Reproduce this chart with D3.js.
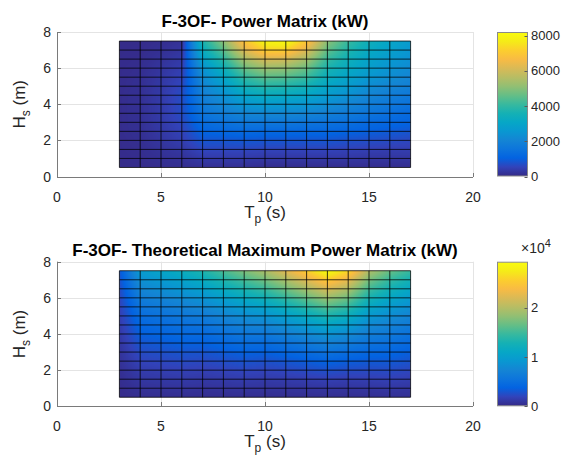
<!DOCTYPE html>
<html>
<head>
<meta charset="utf-8">
<script src="https://cdn.jsdelivr.net/npm/d3@7"></script>
<style>
  html, body { margin: 0; padding: 0; background: #fff; }
  svg { display: block; font-family: "Liberation Sans", Arial, Helvetica, sans-serif; }
</style>
</head>
<body>
<svg id="chart" width="561" height="463"></svg>
<script>
// Sea-state grid: peak period Tp (s) and significant wave height Hs (m)
const tpValues = [3, 4, 5, 6, 7, 8, 9, 10, 11, 12, 13, 14, 15, 16, 17];
const hsValues = [0.5, 1, 1.5, 2, 2.5, 3, 3.5, 4, 4.5, 5, 5.5, 6, 6.5, 7, 7.5];

// Absorbed power (kW), one array per Tp, Hs ascending
const powerByTp = [
  [25, 40, 50, 55, 65, 65, 65, 65, 65, 55, 55, 50, 40, 35, 25],
  [40, 65, 80, 100, 115, 125, 130, 130, 125, 115, 100, 80, 65, 50, 40],
  [65, 125, 180, 245, 285, 330, 345, 345, 330, 305, 270, 230, 180, 125, 80],
  [80, 165, 285, 410, 490, 575, 655, 655, 655, 575, 490, 410, 330, 245, 165],
  [125, 330, 575, 820, 1065, 1310, 1560, 1720, 1885, 2050, 2215, 2460, 2870, 3280, 3690],
  [125, 330, 575, 820, 1150, 1475, 1805, 2130, 2380, 2705, 3035, 3445, 3935, 4510, 5085],
  [125, 330, 575, 860, 1230, 1640, 2050, 2540, 3035, 3525, 4020, 4675, 5410, 6230, 6970],
  [80, 285, 535, 820, 1190, 1640, 2130, 2705, 3280, 3855, 4510, 5250, 6150, 7215, 8035],
  [80, 285, 535, 820, 1190, 1640, 2130, 2625, 3200, 3770, 4430, 5165, 6070, 7215, 8200],
  [80, 285, 535, 820, 1150, 1560, 2050, 2540, 3035, 3525, 4100, 4675, 5410, 6230, 7050],
  [80, 285, 535, 820, 1150, 1475, 1885, 2295, 2705, 3035, 3360, 3690, 4100, 4590, 5085],
  [80, 285, 490, 740, 1065, 1395, 1720, 2050, 2380, 2705, 2950, 3200, 3445, 3770, 4100],
  [80, 245, 450, 695, 985, 1230, 1560, 1805, 2050, 2295, 2540, 2790, 2950, 3200, 3445],
  [80, 245, 410, 655, 900, 1150, 1395, 1640, 1805, 2050, 2295, 2460, 2625, 2870, 3035],
  [80, 245, 410, 575, 820, 1065, 1230, 1475, 1640, 1885, 2050, 2215, 2380, 2540, 2705]
];

// Theoretical maximum power (kW), one array per Tp, Hs ascending
const theoreticalByTp = [
  [90, 180, 290, 410, 560, 700, 880, 1060, 1230, 1440, 1670, 1930, 2230, 2550, 2930],
  [290, 580, 970, 1350, 1840, 2320, 2900, 3480, 4060, 4740, 5510, 6380, 7350, 8410, 9670],
  [330, 650, 1080, 1520, 2060, 2600, 3250, 3900, 4550, 5310, 6180, 7150, 8240, 9430, 10840],
  [360, 720, 1200, 1680, 2280, 2880, 3600, 4320, 5040, 5880, 6850, 7930, 9130, 10450, 12010],
  [300, 640, 1080, 1580, 2180, 2850, 3620, 4450, 5320, 6340, 7480, 8760, 10180, 11730, 13480],
  [320, 710, 1220, 1800, 2490, 3270, 4160, 5120, 6130, 7300, 8620, 10090, 11730, 13510, 15530],
  [350, 790, 1370, 2020, 2810, 3690, 4710, 5800, 6940, 8260, 9760, 11430, 13270, 15290, 17580],
  [330, 720, 1240, 1900, 2650, 3600, 4650, 5900, 7260, 8830, 10600, 12560, 14720, 17080, 19630],
  [340, 760, 1330, 2100, 2980, 4080, 5310, 6770, 8350, 10150, 12180, 14440, 16920, 19630, 22560],
  [350, 810, 1460, 2350, 3370, 4650, 6060, 7730, 9540, 11600, 13920, 16500, 19340, 22430, 25780],
  [370, 900, 1630, 2650, 3810, 5270, 6890, 8790, 10840, 13190, 15820, 18750, 21980, 25490, 29300],
  [350, 820, 1470, 2380, 3430, 4750, 6200, 7910, 9760, 11870, 14240, 16880, 19780, 22940, 26370],
  [400, 900, 1550, 2290, 3190, 4180, 5340, 6570, 7870, 9360, 11060, 12950, 15040, 17330, 19920],
  [500, 1000, 1670, 2340, 3170, 4010, 5010, 6010, 7010, 8180, 9520, 11020, 12690, 14530, 16700],
  [440, 880, 1470, 2050, 2780, 3520, 4400, 5270, 6150, 7180, 8350, 9670, 11130, 12750, 14650]
];

// Axis and colour-bar ticks
const xTicks = [0, 5, 10, 15, 20];
const yTicks = [0, 2, 4, 6, 8];
const powerBarTicks = [0, 2000, 4000, 6000, 8000];
const theoreticalBarTicks = [0, 10000, 20000];

// Parula colormap, sampled evenly from low to high
const parula = ["#352a87", "#3243ba", "#0363e1", "#0d75dc", "#1485d4", "#0998d1",
  "#06a7c6", "#15b1b4", "#38b99e", "#65be86", "#92bf73", "#b7bd64",
  "#d9ba56", "#f8bb44", "#fcce2e", "#f5eb18", "#f9fb0e"];

const svg = d3.select("#chart");
const axisColor = "#7a7a7a";
const textColor = "#262626";
const plotLeft = 57, plotRight = 473;
const barLeft = 497, barRight = 527;

const panels = [
  { title: "F-3OF- Power Matrix (kW)", data: powerByTp, top: 32, bottom: 176.5,
    barTicks: powerBarTicks, barFormat: d => String(d), exponent: null },
  { title: "F-3OF- Theoretical Maximum Power Matrix (kW)", data: theoreticalByTp, top: 261.7, bottom: 406.3,
    barTicks: theoreticalBarTicks, barFormat: d => String(d / 1e4), exponent: "4" }
];

// Bilinear interpolation of the node values at (tp, hs)
function sampleField(data, tp, hs) {
  const n = tpValues.length, m = hsValues.length;
  const i = Math.max(0, Math.min(n - 2, d3.bisectRight(tpValues, tp) - 1));
  const j = Math.max(0, Math.min(m - 2, d3.bisectRight(hsValues, hs) - 1));
  const tx = Math.max(0, Math.min(1, (tp - tpValues[i]) / (tpValues[i + 1] - tpValues[i])));
  const ty = Math.max(0, Math.min(1, (hs - hsValues[j]) / (hsValues[j + 1] - hsValues[j])));
  const a = data[i][j], b = data[i + 1][j], c = data[i][j + 1], d = data[i + 1][j + 1];
  return (a * (1 - tx) + b * tx) * (1 - ty) + (c * (1 - tx) + d * tx) * ty;
}

panels.forEach((p, k) => {
  const x = d3.scaleLinear().domain([0, 20]).range([plotLeft, plotRight]);
  const y = d3.scaleLinear().domain([0, 8]).range([p.bottom, p.top]);
  const cMax = d3.max(p.data, col => d3.max(col));
  const color = d3.scaleLinear()
    .domain(parula.map((_, i) => i / (parula.length - 1) * cMax))
    .range(parula)
    .interpolate(d3.interpolateRgb)
    .clamp(true);

  const g = svg.append("g");

  // grid
  g.selectAll(null).data(xTicks).join("line")
    .attr("x1", d => Math.round(x(d)) + 0.5).attr("x2", d => Math.round(x(d)) + 0.5)
    .attr("y1", p.top).attr("y2", p.bottom)
    .attr("stroke", "#e4e4e4").attr("stroke-width", 1);
  g.selectAll(null).data(yTicks).join("line")
    .attr("x1", plotLeft).attr("x2", plotRight)
    .attr("y1", d => Math.round(y(d)) + 0.5).attr("y2", d => Math.round(y(d)) + 0.5)
    .attr("stroke", "#e4e4e4").attr("stroke-width", 1);

  // interpolated colour field
  const fx0 = x(tpValues[0]), fx1 = x(tpValues[tpValues.length - 1]);
  const fy0 = y(hsValues[hsValues.length - 1]), fy1 = y(hsValues[0]);
  const ss = 3;
  const cw = Math.ceil((fx1 - fx0) * ss), ch = Math.ceil((fy1 - fy0) * ss);
  const canvas = document.createElement("canvas");
  canvas.width = cw; canvas.height = ch;
  const ctx = canvas.getContext("2d");
  const img = ctx.createImageData(cw, ch);
  const lut = d3.range(512).map(i => d3.rgb(color(i / 511 * cMax)));
  for (let py = 0; py < ch; py++) {
    const hs = y.invert(fy0 + (py + 0.5) * (fy1 - fy0) / ch);
    for (let px = 0; px < cw; px++) {
      const tp = x.invert(fx0 + (px + 0.5) * (fx1 - fx0) / cw);
      const v = sampleField(p.data, tp, hs);
      const c = lut[Math.max(0, Math.min(511, Math.round(v / cMax * 511)))];
      const o = (py * cw + px) * 4;
      img.data[o] = c.r; img.data[o + 1] = c.g; img.data[o + 2] = c.b; img.data[o + 3] = 255;
    }
  }
  ctx.putImageData(img, 0, 0);
  g.append("image")
    .attr("x", fx0).attr("y", fy0)
    .attr("width", fx1 - fx0).attr("height", fy1 - fy0)
    .attr("preserveAspectRatio", "none")
    .attr("href", canvas.toDataURL());

  // cell edges
  g.selectAll(null).data(tpValues).join("line")
    .attr("x1", d => x(d)).attr("x2", d => x(d))
    .attr("y1", fy0).attr("y2", fy1)
    .attr("stroke", "#000").attr("stroke-width", 0.9).attr("stroke-opacity", 0.85);
  g.selectAll(null).data(hsValues).join("line")
    .attr("x1", fx0).attr("x2", fx1)
    .attr("y1", d => y(d)).attr("y2", d => y(d))
    .attr("stroke", "#000").attr("stroke-width", 0.9).attr("stroke-opacity", 0.85);

  // axis lines and inward ticks
  g.append("line").attr("x1", plotLeft + 0.5).attr("x2", plotLeft + 0.5)
    .attr("y1", p.top).attr("y2", p.bottom).attr("stroke", axisColor);
  g.append("line").attr("x1", plotLeft).attr("x2", plotRight)
    .attr("y1", Math.round(p.bottom) + 0.5).attr("y2", Math.round(p.bottom) + 0.5).attr("stroke", axisColor);
  g.selectAll(null).data(xTicks).join("line")
    .attr("x1", d => Math.round(x(d)) + 0.5).attr("x2", d => Math.round(x(d)) + 0.5)
    .attr("y1", Math.round(p.bottom)).attr("y2", Math.round(p.bottom) - 4)
    .attr("stroke", axisColor);
  g.selectAll(null).data(yTicks).join("line")
    .attr("x1", plotLeft).attr("x2", plotLeft + 4)
    .attr("y1", d => Math.round(y(d)) + 0.5).attr("y2", d => Math.round(y(d)) + 0.5)
    .attr("stroke", axisColor);

  // tick labels
  g.selectAll(null).data(xTicks).join("text")
    .attr("x", d => x(d)).attr("y", p.bottom + 25)
    .attr("text-anchor", "middle").attr("font-size", 14).attr("fill", textColor)
    .text(d => d);
  g.selectAll(null).data(yTicks).join("text")
    .attr("x", plotLeft - 6).attr("y", d => y(d)).attr("dy", "0.36em")
    .attr("text-anchor", "end").attr("font-size", 14).attr("fill", textColor)
    .text(d => d);

  // title
  g.append("text").attr("x", (plotLeft + plotRight) / 2).attr("y", p.top - 5.5)
    .attr("text-anchor", "middle").attr("font-size", 17).attr("font-weight", "bold")
    .attr("fill", "#000").text(p.title);

  // x label: Tp (s)
  const xl = g.append("text").attr("x", (plotLeft + plotRight) / 2).attr("y", p.bottom + 41)
    .attr("text-anchor", "middle").attr("font-size", 17).attr("fill", textColor);
  xl.append("tspan").text("T");
  xl.append("tspan").attr("font-size", 12).attr("dy", 5).text("p");
  xl.append("tspan").attr("dy", -5).text(" (s)");

  // y label: Hs (m)
  const cy = (p.top + p.bottom) / 2;
  const yl = g.append("text").attr("transform", `translate(25,${cy}) rotate(-90)`)
    .attr("text-anchor", "middle").attr("font-size", 17).attr("fill", textColor);
  yl.append("tspan").text("H");
  yl.append("tspan").attr("font-size", 12).attr("dy", 5).text("s");
  yl.append("tspan").attr("dy", -5).text(" (m)");

  // colour bar
  const gradId = "bar" + k;
  const grad = svg.append("defs").append("linearGradient").attr("id", gradId)
    .attr("x1", 0).attr("y1", 1).attr("x2", 0).attr("y2", 0);
  grad.selectAll("stop").data(parula).join("stop")
    .attr("offset", (_, i) => i / (parula.length - 1))
    .attr("stop-color", d => d);
  const cb = d3.scaleLinear().domain([0, cMax]).range([p.bottom, p.top]);
  g.append("rect").attr("x", barLeft + 0.5).attr("y", p.top + 0.5)
    .attr("width", barRight - barLeft).attr("height", p.bottom - p.top - 1)
    .attr("fill", `url(#${gradId})`).attr("stroke", "#8a8a8a").attr("stroke-width", 1);
  g.selectAll(null).data(p.barTicks).join("line")
    .attr("x1", barRight + 0.5).attr("x2", barRight - 2.5)
    .attr("y1", d => Math.round(cb(d)) + 0.5).attr("y2", d => Math.round(cb(d)) + 0.5)
    .attr("stroke", "#5a5a5a");
  g.selectAll(null).data(p.barTicks).join("text")
    .attr("x", barRight + 4).attr("y", d => cb(d)).attr("dy", "0.36em")
    .attr("font-size", 13).attr("fill", textColor)
    .text(p.barFormat);
  if (p.exponent) {
    const ex = g.append("text").attr("x", barRight - 6).attr("y", p.top - 9)
      .attr("font-size", 14).attr("fill", textColor);
    ex.append("tspan").text("\u00d710");
    ex.append("tspan").attr("font-size", 11).attr("dy", -6).text(p.exponent);
  }
});
</script>
</body>
</html>
